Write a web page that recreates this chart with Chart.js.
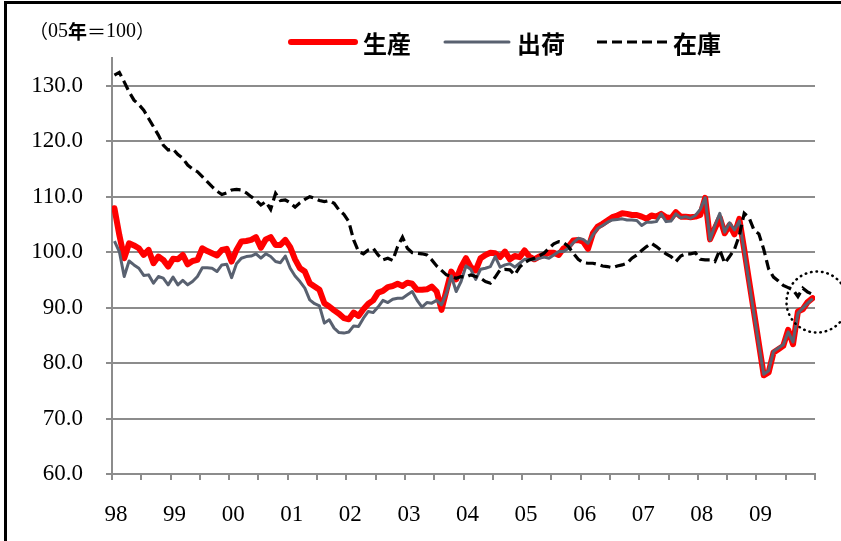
<!DOCTYPE html>
<html lang="ja">
<head>
<meta charset="utf-8">
<title>生産・出荷・在庫</title>
<script src="https://cdn.jsdelivr.net/npm/chart.js@4.4.1/dist/chart.umd.min.js"></script>
<style>
  html, body { margin: 0; padding: 0; background: #fff; }
  canvas { display: block; }
</style>
</head>
<body>
<canvas id="chart" width="841" height="541"></canvas>
<script>
// 月次指数（05年＝100）、98年1月〜09年12月
const yearLabels = ['98', '99', '00', '01', '02', '03', '04', '05', '06', '07', '08', '09'];
const seriesNames = ['生産', '出荷', '在庫'];

const production = [
  107.9, 103.1, 98.9, 101.6, 101.2, 100.7, 99.5, 100.4, 98.0, 99.2, 98.6, 97.4,
  98.8, 98.7, 99.5, 97.8, 98.4, 98.6, 100.7, 100.2, 99.8, 99.4, 100.4, 100.6,
  98.3, 100.4, 101.9, 102.0, 102.2, 102.7, 100.8, 102.3, 102.7, 101.3, 101.3, 102.2,
  100.9, 98.7, 97.1, 96.5, 94.4, 93.8, 93.2, 90.8, 90.2, 89.5, 88.9, 88.1,
  87.9, 89.1, 88.5, 89.7, 90.7, 91.3, 92.7, 93.0, 93.7, 93.9, 94.3, 93.9,
  94.5, 94.3, 93.2, 93.2, 93.3, 93.8, 92.9, 89.6, 93.1, 96.5, 95.1, 97.3,
  98.9, 97.3, 96.7, 98.9, 99.5, 99.9, 99.8, 99.1, 100.1, 98.7, 99.3, 99.1,
  100.3, 99.2, 98.7, 99.2, 99.5, 99.9, 99.9, 99.5, 100.7, 101.0, 102.1, 102.2,
  101.9, 100.6, 103.4, 104.6, 105.1, 105.7, 106.3, 106.6, 107.0, 106.9, 106.7, 106.7,
  106.4, 106.0, 106.6, 106.4, 106.9, 106.3, 106.1, 107.2, 106.4, 106.4, 106.3, 106.4,
  106.7, 109.8, 102.3, 104.3, 106.2, 103.4, 104.9, 103.2, 106.0, 100.5, 94.8, 89.2,
  83.5, 77.8, 78.3, 81.9, 82.5, 83.1, 86.0, 83.4, 89.3, 89.7, 91.0, 91.7
];

const shipments = [
  102.0, 100.1, 95.6, 98.4, 97.7, 97.1, 95.8, 95.9, 94.4, 95.6, 95.3, 94.1,
  95.5, 94.1, 94.9, 94.1, 94.7, 95.6, 97.2, 97.2, 97.1, 96.5, 97.7, 97.8,
  95.4, 97.9, 98.9, 99.2, 99.3, 99.7, 98.9, 99.7, 99.2, 98.3, 98.1, 99.3,
  97.1, 95.7, 94.7, 93.5, 91.4, 90.7, 90.3, 87.2, 87.8, 86.3, 85.5, 85.4,
  85.6, 86.7, 86.6, 88.1, 89.3, 89.1, 90.1, 91.3, 90.9, 91.5, 91.7, 91.7,
  92.3, 92.9, 91.3, 90.1, 90.9, 90.8, 91.3, 90.5, 92.6, 95.7, 92.9, 94.7,
  97.5, 96.9, 95.1, 96.9, 97.1, 97.4, 99.2, 97.3, 97.7, 97.9, 97.3, 98.0,
  98.7, 98.7, 98.6, 98.9, 99.1, 98.9, 99.5, 100.1, 100.1, 100.7, 101.7, 102.5,
  102.3, 101.6, 103.1, 104.3, 104.8, 105.4, 105.8, 105.9, 106.0, 105.8, 105.8, 105.7,
  104.8, 105.4, 105.4, 105.5, 106.9, 105.5, 105.6, 106.9, 106.2, 106.4, 106.1, 106.6,
  107.7, 109.8, 102.2, 104.8, 107.0, 103.6, 105.3, 104.0, 105.6, 100.2, 94.5, 88.9,
  83.3, 78.0, 78.6, 82.1, 82.7, 83.3, 85.6, 83.8, 89.0, 89.9, 90.8, 91.6
];

const inventory = [
  131.9, 132.4, 130.7, 128.9, 127.4, 126.6, 125.6, 124.1, 122.6, 121.1, 119.3, 118.4,
  118.6, 117.6, 116.9, 115.7, 115.0, 114.5, 113.6, 112.7, 111.8, 111.0, 110.4, 110.7,
  111.2, 111.3, 111.2, 110.7, 110.0, 109.4, 108.5, 109.1, 107.7, 110.6, 109.3, 109.4,
  108.9, 108.1, 108.9, 109.5, 110.0, 109.7, 109.3, 109.1, 109.3, 108.8, 107.6, 106.8,
  105.5, 102.2, 100.1, 99.7, 100.4, 100.7, 99.5, 98.6, 98.9, 98.5, 101.0, 102.7,
  100.7, 99.9, 99.8, 99.7, 99.5, 98.6, 97.5, 96.7, 95.9, 95.6, 95.3, 95.6,
  95.5, 95.9, 95.6, 95.3, 94.7, 94.4, 95.5, 96.8, 96.9, 96.8, 95.9, 97.3,
  98.1, 98.6, 98.9, 99.3, 99.8, 100.7, 101.5, 101.9, 101.7, 101.0, 99.8, 98.7,
  98.1, 98.0, 98.0, 97.8, 97.5, 97.4, 97.2, 97.5, 97.7, 98.0, 98.9, 99.5,
  100.3, 101.0, 101.6, 101.0, 100.3, 99.7, 99.2, 98.3, 99.3, 99.7, 99.7, 99.9,
  98.7, 98.6, 98.6, 98.3, 100.4, 98.0, 99.2, 100.5, 103.0, 107.0, 106.2, 104.0,
  103.3, 100.5, 97.0, 95.5, 94.8, 94.0, 93.6, 93.2, 92.0, 93.5, 92.8, 92.4
];

const gridColor = '#8c8c8c';
const serif = '"Liberation Serif", "Times New Roman", serif';
const gothic = '"Noto Sans CJK JP", sans-serif';

// 月の中央に点を置く（目盛は月の境目）
function toPoints(values) {
  return values.map((v, i) => ({ x: i + 0.5, y: v }));
}

const frameAndNotes = {
  id: 'frameAndNotes',
  beforeDraw(chart) {
    const ctx = chart.ctx;
    ctx.save();
    ctx.fillStyle = '#fff';
    ctx.fillRect(0, 0, chart.width, chart.height);
    ctx.strokeStyle = '#000';
    ctx.lineWidth = 3;
    ctx.beginPath();
    ctx.moveTo(4, 2.5);
    ctx.lineTo(chart.width, 2.5);
    ctx.moveTo(5.5, 1);
    ctx.lineTo(5.5, chart.height);
    ctx.stroke();
    ctx.restore();
  },
  afterDraw(chart) {
    const ctx = chart.ctx;
    ctx.save();

    // 単位
    const unit = [
      ['（', '19px ' + gothic],
      ['05', '20px ' + serif],
      ['年', 'bold 19px ' + gothic],
      ['＝', '19px ' + gothic],
      ['100', '20px ' + serif],
      ['）', '19px ' + gothic]
    ];
    let ux = 29;
    ctx.fillStyle = '#000';
    ctx.textBaseline = 'middle';
    ctx.textAlign = 'left';
    unit.forEach(([t, f]) => {
      ctx.font = f;
      ctx.fillText(t, ux, 32);
      ux += ctx.measureText(t).width;
    });

    // 凡例
    const starts = [288, 442, 597];
    chart.data.datasets.forEach((ds, k) => {
      const x0 = starts[k];
      ctx.beginPath();
      ctx.strokeStyle = ds.borderColor;
      ctx.lineWidth = ds.borderWidth;
      ctx.lineCap = ds.borderDash ? 'butt' : 'round';
      ctx.setLineDash(ds.borderDash || []);
      ctx.moveTo(x0 + (ds.borderDash ? 0 : 3), 42);
      ctx.lineTo(x0 + (ds.borderDash ? 74 : 67), 42);
      ctx.stroke();
      ctx.setLineDash([]);
      ctx.font = 'bold 24px ' + gothic;
      ctx.fillStyle = '#000';
      ctx.fillText(ds.label, x0 + (k === 2 ? 76 : 75), 44);
    });

    // 見通し部分の点線の円
    const xs = chart.scales.x, ys = chart.scales.y;
    ctx.beginPath();
    ctx.strokeStyle = '#000';
    ctx.lineWidth = 2.5;
    ctx.lineCap = 'round';
    ctx.setLineDash([0.5, 5]);
    ctx.arc(xs.getPixelForValue(144) + 2, ys.getPixelForValue(91), 30.5, 0, Math.PI * 2);
    ctx.stroke();
    ctx.restore();
  }
};

new Chart(document.getElementById('chart'), {
  type: 'line',
  data: {
    datasets: [
      { label: seriesNames[0], data: toPoints(production), borderColor: '#ff0000', borderWidth: 6,
        borderCapStyle: 'round', borderJoinStyle: 'round', order: 3 },
      { label: seriesNames[1], data: toPoints(shipments), borderColor: '#596170', borderWidth: 3,
        borderJoinStyle: 'round', order: 2 },
      { label: seriesNames[2], data: toPoints(inventory), borderColor: '#000000', borderWidth: 3.2,
        borderDash: [10, 5], order: 1 }
    ]
  },
  options: {
    responsive: false,
    animation: false,
    devicePixelRatio: 1,
    layout: { padding: { top: 58, right: 26, left: 0, bottom: 0 } },
    elements: { point: { radius: 0 }, line: { tension: 0, fill: false } },
    plugins: { legend: { display: false }, tooltip: { enabled: false } },
    scales: {
      x: {
        type: 'linear',
        min: 0,
        max: 144,
        afterFit(s) { s.height = 67; },
        border: { display: true, color: gridColor, width: 2 },
        grid: { drawOnChartArea: false, drawTicks: true, tickLength: 6, color: gridColor, lineWidth: 2 },
        ticks: {
          stepSize: 6,
          autoSkip: false,
          maxRotation: 0,
          padding: 21,
          labelOffset: 4,
          color: '#000',
          font: { family: serif, size: 23 },
          callback: v => (v % 12 === 0 && v / 12 < yearLabels.length) ? yearLabels[v / 12] : ''
        }
      },
      y: {
        min: 60,
        max: 135,
        afterFit(s) { s.width = 112; },
        afterBuildTicks(s) { s.ticks = s.ticks.filter(t => t.value % 10 === 0); },
        border: { display: true, color: gridColor, width: 2 },
        grid: { color: gridColor, lineWidth: 2, tickLength: 6 },
        ticks: {
          stepSize: 10,
          padding: 23,
          color: '#000',
          font: { family: serif, size: 23 },
          callback: v => v.toFixed(1)
        }
      }
    }
  },
  plugins: [frameAndNotes]
});
</script>
</body>
</html>
